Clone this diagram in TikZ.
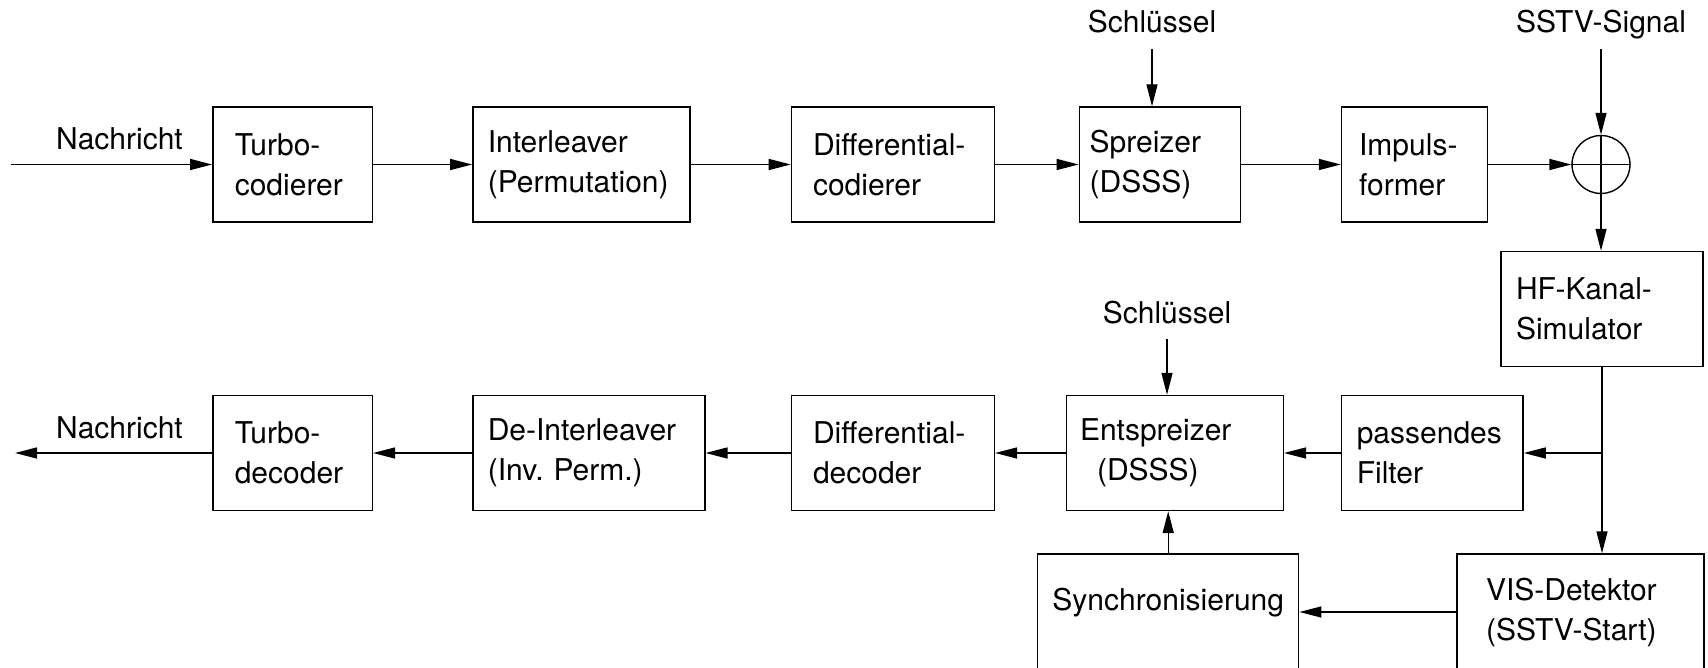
\documentclass[tikz,border=0pt]{standalone}
\usepackage{fontspec}
\setmainfont{TeX Gyre Heros}
\usetikzlibrary{arrows.meta}

\begin{document}
\begin{tikzpicture}[x=0.5pt,y=-0.5pt,line width=0.7pt,
    font=\fontsize{15pt}{20pt}\selectfont,
    blk/.style={draw,align=left,minimum height=57.5pt,inner xsep=0pt,inner ysep=0pt},
    lbl/.style={inner sep=0pt,anchor=base},
    arr/.style={-{Triangle[length=11pt,width=5.5pt]}}]
  \useasboundingbox (0,0) rectangle (1708,668);
  % sender
  \node[blk,minimum width=79.8pt,text width=57.8pt]  (tcod) at (292.6,164.5) {Turbo-\\codierer};
  \node[blk,minimum width=108.6pt,text width=93.6pt] (intl) at (581.4,164.5) {Interleaver\\(Permutation)};
  \node[blk,minimum width=101.5pt,text width=79.9pt] (dcod) at (892.9,164.5) {Differential-\\codierer};
  \node[blk,minimum width=80.6pt,text width=70.2pt]  (spr)  at (1159.9,164.5) {Spreizer\\(DSSS)};
  \node[blk,minimum width=73pt,text width=55.5pt]    (imp)  at (1414.5,164.5) {Impuls-\\former};
  \node[circle,draw,minimum size=29pt,inner sep=0pt] (sum)  at (1601,164.5) {};
  \node[blk,minimum width=101pt,text width=86pt]     (hf)   at (1602,309) {HF-Kanal-\\Simulator};
  % receiver
  \node[blk,minimum width=79.8pt,text width=57.8pt]  (tdec)  at (292.6,453) {Turbo-\\decoder};
  \node[blk,minimum width=116pt,text width=101pt]    (deint) at (588.8,453) {De-Interleaver\\(Inv.\ Perm.)};
  \node[blk,minimum width=101.5pt,text width=79.9pt] (ddec)  at (892.9,453) {Differential-\\decoder};
  \node[blk,minimum width=108.3pt,text width=95pt]   (ent)   at (1175,453) {Entspreizer\\\hspace*{8.5pt}(DSSS)};
  \node[blk,minimum width=90.75pt,text width=75.5pt] (filt)  at (1432.3,453) {passendes\\Filter};
  \node[blk,minimum width=123.5pt,text width=94.5pt,minimum height=58pt] (vis) at (1580.5,612) {VIS-Detektor\\(SSTV-Start)};
  \node[blk,minimum width=130.5pt,minimum height=58pt,text depth=12.5pt] (sync) at (1168.2,612) {Synchronisierung};
  % labels
  \node[lbl] (msgin)  at (119.5,150) {Nachricht};
  \node[lbl] (msgout) at (119.5,438) {Nachricht};
  \node[lbl] (key1)   at (1152,33)   {Schlüssel};
  \node[lbl] (sig)    at (1601,33)   {SSTV-Signal};
  \node[lbl] (key2)   at (1167,323)  {Schlüssel};
  \coordinate (src) at (11,164.5);
  \coordinate (dst) at (15,453);
  \coordinate (br)  at (hf.south |- filt.east);

  \draw[arr] (src) -- (tcod);
  \foreach \a/\b in {tcod/intl,intl/dcod,dcod/spr,spr/imp,imp/sum}
    \draw[arr] (\a) -- (\b);
  \draw[arr] ([yshift=-8pt]key1.base) -- (key1.base |- spr.north);
  \draw[arr] ([yshift=-8pt]sig.base) -- (sum.north);
  \draw (sum.west) -- (sum.east) (sum.north) -- (sum.south);
  \draw[arr] (sum.south) -- (sum.south |- hf.north);
  \draw[arr] (hf.south) -- (hf.south |- vis.north);
  \draw[arr] (br) -- (filt.east);
  \foreach \a/\b in {filt/ent,ent/ddec,ddec/deint,deint/tdec}
    \draw[arr] (\a) -- (\b);
  \draw[arr] (tdec) -- (dst);
  \draw[arr] ([yshift=-8pt]key2.base) -- (key2.base |- ent.north);
  \draw[arr] (sync.north) -- (sync.north |- ent.south);
  \draw[arr] (vis) -- (sync);
\end{tikzpicture}
\end{document}
